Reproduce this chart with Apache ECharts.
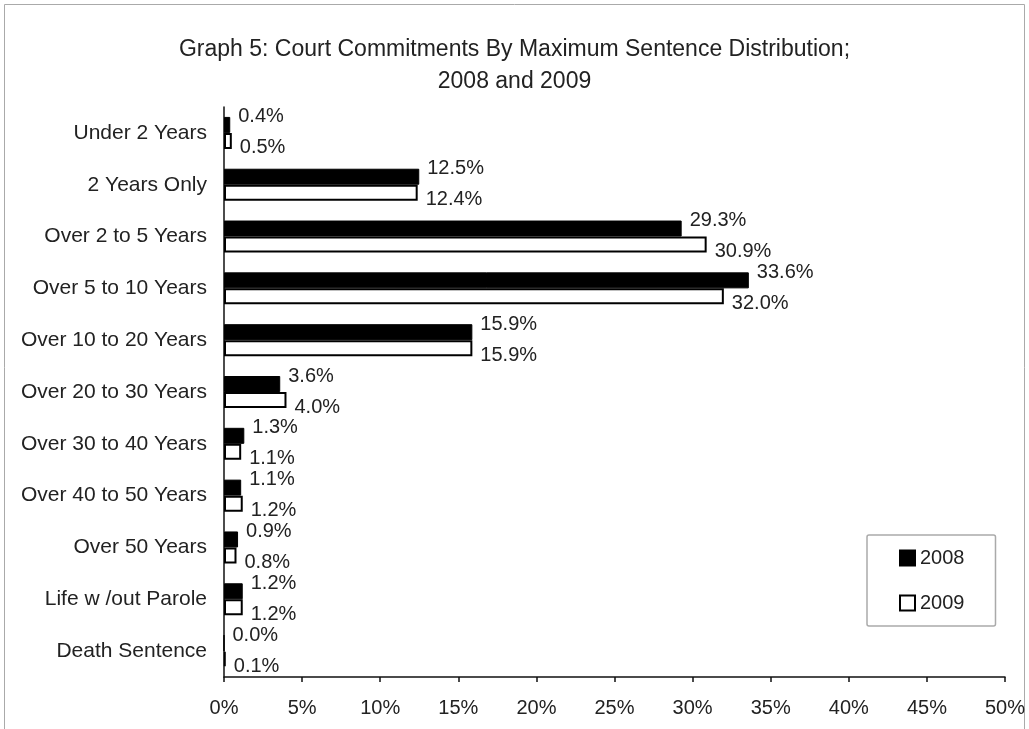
<!DOCTYPE html>
<html>
<head>
<meta charset="utf-8">
<script src="https://cdn.jsdelivr.net/npm/echarts@6/dist/echarts.min.js"></script>
<style>
  html, body { margin: 0; padding: 0; background: #fff; }
  #chart { width: 1029px; height: 729px; }
</style>
</head>
<body>
<div id="chart"></div>
<script>
// categories, top to bottom
const categories = [
  'Under 2 Years', '2 Years Only', 'Over 2 to 5 Years', 'Over 5 to 10 Years',
  'Over 10 to 20 Years', 'Over 20 to 30 Years', 'Over 30 to 40 Years',
  'Over 40 to 50 Years', 'Over 50 Years', 'Life w /out Parole', 'Death Sentence'
]
const values2008 = [0.4, 12.5, 29.3, 33.6, 15.9, 3.6, 1.3, 1.1, 0.9, 1.2, 0.0]
const values2009 = [0.5, 12.4, 30.9, 32.0, 15.9, 4.0, 1.1, 1.2, 0.8, 1.2, 0.1]
const xTicks = [0, 5, 10, 15, 20, 25, 30, 35, 40, 45, 50]

const chart = echarts.init(document.getElementById('chart'))
const font = 'Liberation Sans, Arial, sans-serif'

const labelOf = (dy) => ({
  show: true,
  position: 'right',
  distance: 8,
  offset: [0, dy],
  formatter: p => p.value.toFixed(1) + '%',
  color: '#222',
  fontSize: 20,
  fontFamily: font
})

const option = {
  animation: false,
  textStyle: { fontFamily: font },
  title: {
    text: 'Graph 5: Court Commitments By Maximum Sentence Distribution;\n2008 and 2009',
    left: 'center',
    top: 29,
    textStyle: { fontSize: 23, fontWeight: 'normal', color: '#222', lineHeight: 32, fontFamily: font }
  },
  graphic: [{
    type: 'rect',
    shape: { x: 4.5, y: 4.5, width: 1020, height: 760 },
    style: { fill: 'none', stroke: '#aaa', lineWidth: 1 },
    silent: true
  }],
  legend: {
    orient: 'vertical',
    left: 867,
    top: 535,
    padding: [13, 31, 13, 32],
    itemGap: 25,
    itemWidth: 15,
    itemHeight: 15,
    borderColor: '#aaa',
    borderWidth: 1.5,
    borderRadius: 2,
    textStyle: { fontSize: 20, color: '#222', fontFamily: font },
    data: [
      { name: '2008', icon: 'rect' },
      { name: '2009', icon: 'rect' }
    ]
  },
  grid: { left: 224, right: 24, top: 107, bottom: 52 },
  xAxis: {
    type: 'value',
    min: xTicks[0],
    max: xTicks[xTicks.length - 1],
    interval: 5,
    axisLine: { show: true, lineStyle: { color: '#111', width: 1.5 } },
    axisTick: { show: true, length: 5, lineStyle: { color: '#111', width: 1.5 } },
    splitLine: { show: false },
    axisLabel: { formatter: v => v + '%', fontSize: 20, color: '#222', margin: 21, fontFamily: font }
  },
  yAxis: {
    type: 'category',
    inverse: true,
    data: categories,
    axisLine: { lineStyle: { color: '#111', width: 1.5 } },
    axisTick: { length: 5, lineStyle: { color: '#111', width: 1.5 } },
    axisLabel: { fontSize: 21, color: '#222', margin: 17, fontFamily: font }
  },
  series: [
    {
      name: '2008',
      type: 'bar',
      data: values2008,
      barWidth: 16,
      barGap: '0%',
      itemStyle: { color: '#000', borderColor: '#000', borderWidth: 1 },
      label: labelOf(-8)
    },
    {
      name: '2009',
      type: 'bar',
      data: values2009,
      barWidth: 16,
      barGap: '0%',
      itemStyle: { color: '#fff', borderColor: '#000', borderWidth: 2 },
      label: labelOf(7)
    }
  ]
}

chart.setOption(option)
</script>
</body>
</html>
